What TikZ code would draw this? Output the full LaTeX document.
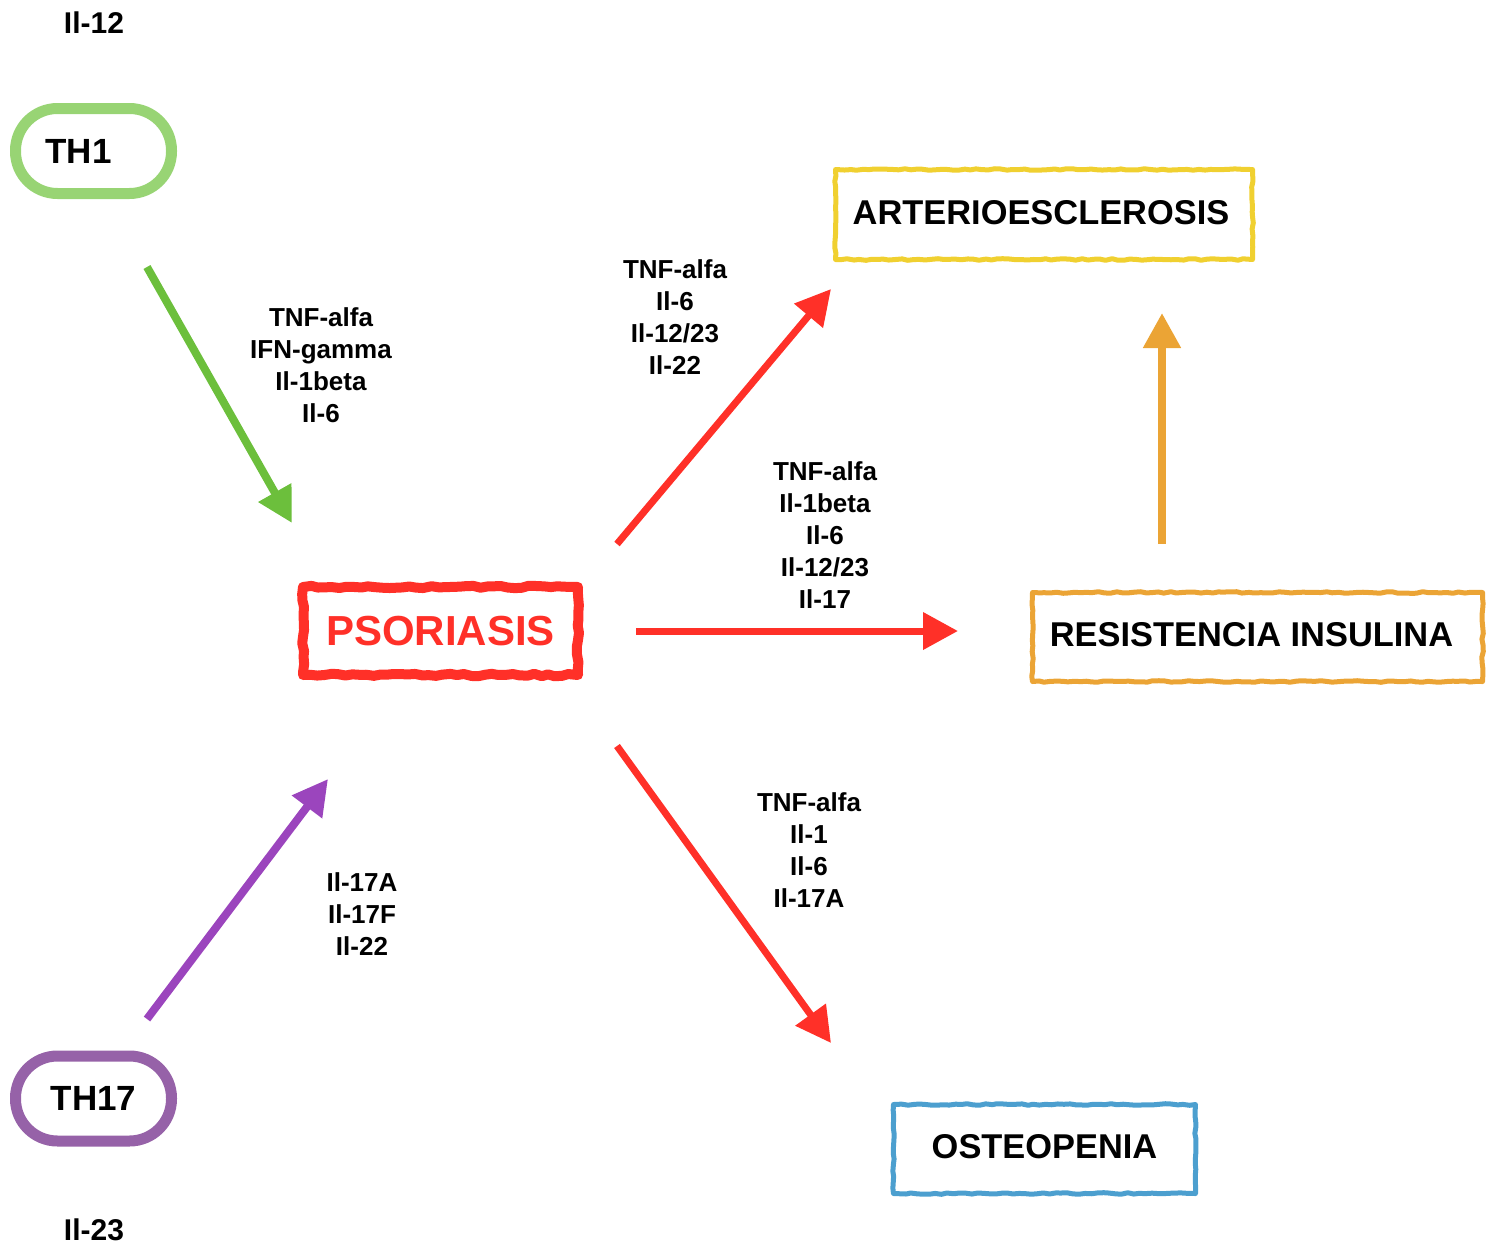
\documentclass[tikz,border=0pt]{standalone}
\usepackage{fontspec}
\setmainfont{Liberation Sans}
\usetikzlibrary{arrows.meta,decorations.pathmorphing}
\definecolor{thgreen}{RGB}{152,212,116}
\definecolor{argreen}{RGB}{108,191,60}
\definecolor{thpurple}{RGB}{150,98,168}
\definecolor{arpurple}{RGB}{155,69,189}
\definecolor{psred}{RGB}{255,48,40}
\definecolor{artyellow}{RGB}{240,208,48}
\definecolor{resorange}{RGB}{235,164,53}
\definecolor{osblue}{RGB}{76,159,207}
\begin{document}
\begin{tikzpicture}[x=1pt,y=-1pt,
  every node/.style={font=\bfseries},
  thbox/.style={draw, line width=11pt, rounded corners=42pt, minimum width=156pt, minimum height=85pt, inner sep=0pt, font=\fontsize{35}{40}\selectfont\bfseries},
  roughbox/.style={draw, line width=5pt, line join=round, decorate, decoration={random steps, segment length=6pt, amplitude=0.8pt}, inner sep=0pt, minimum height=89pt, font=\fontsize{34.4}{40}\selectfont\bfseries},
  cyto/.style={align=center, font=\fontsize{26}{32}\selectfont\bfseries},
  bigarrow/.style={line width=7pt, -{Triangle[length=35pt,width=36pt]}}
]
\pgfmathsetseed{7}
\useasboundingbox (0,0) rectangle (1494,1248);

% top/bottom labels
\node[cyto, font=\fontsize{30}{34}\selectfont\bfseries] (il12) at (94,23) {Il-12};
\node[cyto, font=\fontsize{30}{34}\selectfont\bfseries] (il23) at (94,1230) {Il-23};

% T-helper boxes
\node[thbox, draw=thgreen] (th1) at (93.5,151) {TH1\hspace*{30pt}};
\node[thbox, draw=thpurple] (th17) at (93.5,1098.5) {TH17};

% Psoriasis
\node[draw=psred, line width=10pt, line join=round, line cap=round, decorate, decoration={random steps, segment length=7pt, amplitude=1.2pt}, inner sep=0pt, minimum width=275pt, minimum height=88pt, text=psred, font=\fontsize{42}{48}\selectfont\bfseries] (pso) at (440.5,631) {\raisebox{-3pt}{PSORIASIS}};

% outcomes
\node[roughbox, draw=artyellow, minimum width=417pt, minimum height=90pt] (art) at (1044,214.5) {\raisebox{4pt}{ARTERIOESCLEROSIS}\hspace*{6pt}};
\node[roughbox, draw=resorange, minimum width=450pt] (res) at (1257.5,637) {\raisebox{6pt}{RESISTENCIA INSULINA}\hspace*{12pt}};
\node[roughbox, draw=osblue, minimum width=302pt] (ost) at (1044.5,1149) {\raisebox{5pt}{OSTEOPENIA}};

% arrow end points
\coordinate (g1) at (147,267);   \coordinate (g2) at (292,523);
\coordinate (p1) at (147,1019);  \coordinate (p2) at (328,779);
\coordinate (r1a) at (617,544);  \coordinate (r1b) at (831,289);
\coordinate (r2a) at (636,631);  \coordinate (r2b) at (958,631);
\coordinate (r3a) at (617,746);  \coordinate (r3b) at (831,1043);
\coordinate (o1) at (1162,544);  \coordinate (o2) at (1162,313);

\draw[bigarrow, argreen, line width=8pt] (g1) -- (g2);
\draw[bigarrow, arpurple, line width=8pt] (p1) -- (p2);
\draw[bigarrow, psred] (r1a) -- (r1b);
\draw[bigarrow, psred] (r2a) -- (r2b);
\draw[bigarrow, psred] (r3a) -- (r3b);
\draw[bigarrow, resorange, line width=8pt] (o1) -- (o2);

% cytokine labels
\node[cyto] (lg) at (321,365) {TNF-alfa\\IFN-gamma\\Il-1beta\\Il-6};
\node[cyto] (lp) at (362,914) {Il-17A\\Il-17F\\Il-22};
\node[cyto] (l1) at (675,317) {TNF-alfa\\Il-6\\Il-12/23\\Il-22};
\node[cyto] (l2) at (825,535) {TNF-alfa\\Il-1beta\\Il-6\\Il-12/23\\Il-17};
\node[cyto] (l3) at (809,850) {TNF-alfa\\Il-1\\Il-6\\Il-17A};
\end{tikzpicture}
\end{document}
